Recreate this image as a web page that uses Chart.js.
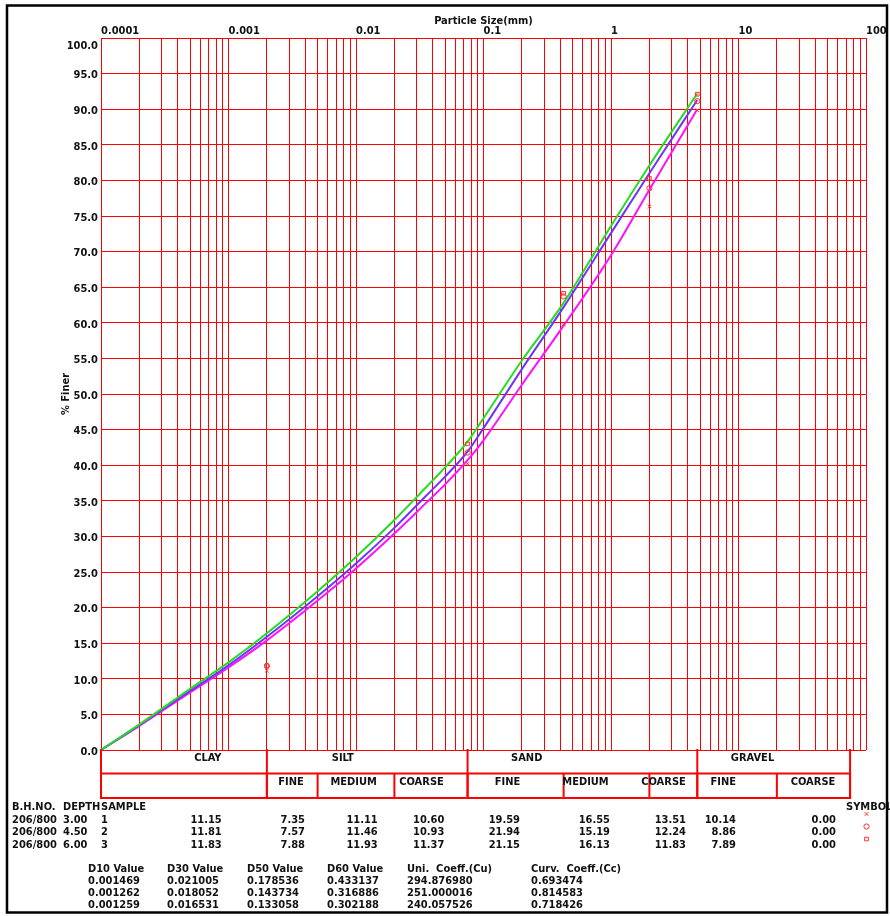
<!DOCTYPE html>
<html><head><meta charset="utf-8">
<script src="https://cdn.jsdelivr.net/npm/chart.js@4/dist/chart.umd.min.js"></script>
<style>html,body{margin:0;padding:0;background:#fff;}canvas{display:block}</style>
</head><body>
<canvas id="c" width="890" height="916"></canvas>
<script>
// ---- data ----
const sizesMm = [0.0001, 0.0002, 0.0005, 0.001, 0.002, 0.005, 0.01, 0.02, 0.035, 0.05, 0.075, 0.1, 0.2, 0.425, 1, 2, 4.75];
const curveSample3 = [0, 3.6, 8.6, 12.3, 16.4, 22.3, 27.1, 32.3, 36.8, 39.7, 43.3, 46.6, 54.7, 62.8, 73.6, 82.1, 92.2];
const curveSample2 = [0, 3.5, 8.3, 11.9, 15.9, 21.6, 26.2, 31.2, 35.6, 38.4, 41.9, 45.2, 53.5, 62.2, 72.6, 81.0, 91.3];
const curveSample1 = [0, 3.4, 8.1, 11.6, 15.4, 21.0, 25.5, 30.4, 34.6, 37.3, 40.7, 43.5, 51.3, 59.6, 69.5, 78.7, 90.0];

const sieveMm = [4.75, 2.0, 0.425, 0.075, 0.002];
const passSample1 = [89.86, 76.35, 59.80, 40.21, 11.15];
const passSample2 = [91.14, 78.90, 63.71, 41.77, 11.81];
const passSample3 = [92.11, 80.28, 64.15, 43.00, 11.83];

const xTickValues = [0.0001, 0.001, 0.01, 0.1, 1, 10, 100];
const xTickLabels = ['0.0001', '0.001', '0.01', '0.1', '1', '10', '100'];

const mainBounds = [0.0001, 0.002, 0.075, 4.75, 75];
const mainNames = ['CLAY', 'SILT', 'SAND', 'GRAVEL'];
const subBounds = [0.002, 0.005, 0.02, 0.075, 0.425, 2, 4.75, 20, 75];
const subNames = ['FINE', 'MEDIUM', 'COARSE', 'FINE', 'MEDIUM', 'COARSE', 'FINE', 'COARSE'];

const bhNo = ['206/800', '206/800', '206/800'];
const depth = ['3.00', '4.50', '6.00'];
const sampleNo = ['1', '2', '3'];
const clay = [11.15, 11.81, 11.83];
const siltFine = [7.35, 7.57, 7.88];
const siltMedium = [11.11, 11.46, 11.93];
const siltCoarse = [10.60, 10.93, 11.37];
const sandFine = [19.59, 21.94, 21.15];
const sandMedium = [16.55, 15.19, 16.13];
const sandCoarse = [13.51, 12.24, 11.83];
const gravelFine = [10.14, 8.86, 7.89];
const gravelCoarse = [0.00, 0.00, 0.00];

const d10 = [0.001469, 0.001262, 0.001259];
const d30 = [0.021005, 0.018052, 0.016531];
const d50 = [0.178536, 0.143734, 0.133058];
const d60 = [0.433137, 0.316886, 0.302188];
const cu = [294.876980, 251.000016, 240.057526];
const cc = [0.693474, 0.814583, 0.718426];

// ---- chart ----
const FONT = '"DejaVu Sans Condensed", "DejaVu Sans", sans-serif';
const RED = '#ff0000';
const GRID = '#ff0000';
const markerStyles = ['crossRot', 'circle', 'rect'];

const gridValues = [];
for (let e = -4; e <= 1; e++) {
  for (let k = 1; k <= 9; k++) gridValues.push(Number((k * Math.pow(10, e)).toPrecision(3)));
}
gridValues.push(100);

function pts(xs, ys) { return xs.map((x, i) => ({x: x, y: ys[i]})); }

const lineDs = (data, color) => ({
  type: 'line', data: pts(sizesMm, data), borderColor: color, borderWidth: 2,
  pointRadius: 0, fill: false, cubicInterpolationMode: 'monotone', order: 2
});
const markDs = (data, style) => ({
  type: 'scatter', data: pts(sieveMm, data), borderColor: '#ff3030', backgroundColor: 'rgba(0,0,0,0)',
  pointStyle: style, pointRadius: 2.6, borderWidth: 1, showLine: false, order: 1
});

const tablePlugin = {
  id: 'tablePlugin',
  beforeDraw(chart) {
    const ctx = chart.ctx;
    ctx.save(); ctx.fillStyle = '#fff'; ctx.fillRect(0, 0, chart.width, chart.height); ctx.restore();
  },
  afterDraw(chart) {
    const ctx = chart.ctx;
    const xs = chart.scales.x;
    const ca = chart.chartArea;
    const px = v => xs.getPixelForValue(v);
    const yTop = ca.bottom, yMid = yTop + 23.5, yBot = yTop + 48;
    ctx.save();
    ctx.strokeStyle = RED; ctx.lineWidth = 2;
    const line = (a, b, c, d) => { ctx.beginPath(); ctx.moveTo(a, b); ctx.lineTo(c, d); ctx.stroke(); };
    const xl = px(mainBounds[0]), xr = px(mainBounds[mainBounds.length - 1]);
    line(xl, yMid, xr, yMid); line(xl - 1, yBot, xr + 1, yBot);
    mainBounds.forEach(b => line(px(b), yTop - 1, px(b), yBot));
    subBounds.forEach(b => line(px(b), yMid, px(b), yBot));

    ctx.fillStyle = '#111';
    ctx.font = 'bold 11px ' + FONT;
    ctx.textBaseline = 'middle';
    ctx.textAlign = 'center';
    const mainX = [207.8, 342.8, 526.7, 752.5];
    mainNames.forEach((n, i) => ctx.fillText(n, mainX[i], yTop + 8));
    const subX = [291, 353.7, 421.5, 507.5, 585.5, 663.5, 723.3, 813];
    subNames.forEach((n, i) => ctx.fillText(n, subX[i], yTop + 32.5));

    // sample table
    ctx.textAlign = 'left';
    ctx.fillText('B.H.NO.', 12, 807);
    ctx.fillText('DEPTH', 63, 807);
    ctx.fillText('SAMPLE', 101, 807);
    ctx.fillText('SYMBOL', 846, 807);
    const cols = [clay, siltFine, siltMedium, siltCoarse, sandFine, sandMedium, sandCoarse, gravelFine, gravelCoarse];
    const colRight = [221.7, 305, 377.7, 444.3, 520, 610, 686, 736, 836];
    const rowY = [820, 832.5, 845];
    for (let r = 0; r < 3; r++) {
      ctx.textAlign = 'left';
      ctx.fillText(bhNo[r], 12, rowY[r]);
      ctx.fillText(depth[r], 63, rowY[r]);
      ctx.fillText(sampleNo[r], 101, rowY[r]);
      ctx.textAlign = 'right';
      cols.forEach((c, i) => ctx.fillText(c[r].toFixed(2), colRight[i], rowY[r]));
    }
    // symbol key
    ctx.save();
    ctx.strokeStyle = '#ff3030'; ctx.fillStyle = 'rgba(0,0,0,0)'; ctx.lineWidth = 1;
    const symY = [814, 826.5, 839];
    markerStyles.forEach((s, i) => {
      Chart.helpers.drawPoint(ctx, {pointStyle: s, radius: 2.6, borderWidth: 1}, 866.5, symY[i]);
    });
    ctx.restore();

    // D values block
    ctx.fillStyle = '#111';
    ctx.textAlign = 'left';
    const headX = [88, 167, 247, 327, 407, 531];
    const heads = ['D10 Value', 'D30 Value', 'D50 Value', 'D60 Value', 'Uni.  Coeff.(Cu)', 'Curv.  Coeff.(Cc)'];
    heads.forEach((h, i) => ctx.fillText(h, headX[i], 869));
    const dcols = [d10, d30, d50, d60, cu, cc];
    const dY = [881, 893, 905];
    for (let r = 0; r < 3; r++) dcols.forEach((c, i) => ctx.fillText(c[r].toFixed(6), headX[i], dY[r]));

    // outer frame
    ctx.strokeStyle = '#000'; ctx.lineWidth = 2.5;
    ctx.strokeRect(7, 5.5, 880, 907);
    ctx.restore();
  }
};

new Chart(document.getElementById('c'), {
  data: {
    datasets: [
      lineDs(curveSample3, '#22dd22'),
      lineDs(curveSample2, '#7033ff'),
      lineDs(curveSample1, '#ff11ff'),
      markDs(passSample1, markerStyles[0]),
      markDs(passSample2, markerStyles[1]),
      markDs(passSample3, markerStyles[2])
    ]
  },
  options: {
    responsive: false, animation: false, devicePixelRatio: 1,
    layout: {padding: {left: 0, top: 0, right: 24, bottom: 166}},
    plugins: {legend: {display: false}, tooltip: {enabled: false}},
    scales: {
      x: {
        type: 'logarithmic', position: 'top', min: 0.0001, max: 100,
        afterBuildTicks: s => { s.ticks = gridValues.map(v => ({value: v})); },
        afterFit: s => { s.height = 38; },
        grid: {color: GRID, lineWidth: 1, drawTicks: false},
        border: {color: RED, width: 1},
        ticks: {
          autoSkip: false, maxRotation: 0, minRotation: 0, align: 'start', padding: 0,
          color: '#111', font: {family: FONT, size: 11, weight: 'bold'},
          callback: v => { const i = xTickValues.findIndex(t => Math.abs(Math.log10(t) - Math.log10(v)) < 1e-6); return i >= 0 ? xTickLabels[i] : ''; }
        },
        title: {display: true, text: 'Particle Size(mm)', color: '#111', font: {family: FONT, size: 11, weight: 'bold'}, padding: {top: 15, bottom: 0}}
      },
      y: {
        min: 0, max: 100,
        afterFit: s => { s.width = 101; },
        grid: {color: GRID, lineWidth: 1, drawTicks: false},
        border: {color: 'rgba(255,0,0,0.45)', width: 1},
        ticks: {
          stepSize: 5, padding: 3, labelOffset: 2, color: '#111', font: {family: FONT, size: 11, weight: 'bold'},
          callback: v => v >= 100 ? ['', Number(v).toFixed(1)] : Number(v).toFixed(1)
        },
        title: {display: true, text: '% Finer', color: '#111', font: {family: FONT, size: 11, weight: 'bold'}, padding: {top: 60, bottom: 0}}
      }
    }
  },
  plugins: [tablePlugin]
});
</script>
</body></html>
